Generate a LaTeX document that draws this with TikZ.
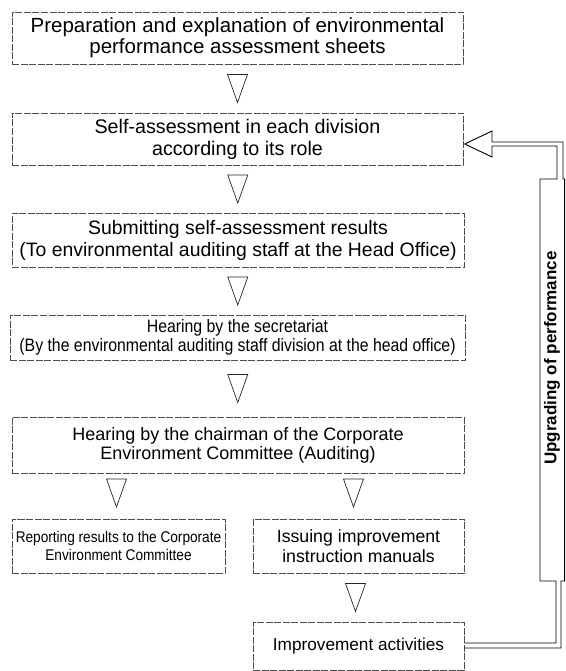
\documentclass[tikz,border=0pt]{standalone}
\usepackage{fontspec}
\setmainfont{Liberation Sans}
\newfontfamily\narrowsans{Liberation Sans}[FakeStretch=0.88]
\usetikzlibrary{calc}

\tikzset{
  box/.style={draw=black!70, line width=0.6pt, dash pattern=on 7pt off 1.5pt,
    rectangle, align=center, inner sep=0pt},
  tri/.style={draw=black!85, line width=0.7pt, line join=miter},
  loopline/.style={draw=black, line width=0.9pt, line join=miter},
  downtri/.pic={\draw[tri] (-10,-14) -- (10,-14) -- (0,14) -- cycle;},
}

\begin{document}
\begin{tikzpicture}[x=1pt,y=-1pt]
\useasboundingbox (0,0) rectangle (565,671);

% main column of steps
\node[box, minimum width=451pt, minimum height=52pt,
      font=\fontsize{20.5}{21}\selectfont] (b1) at (237.5,38)
  {Preparation and explanation of environmental\\performance assessment sheets};
\node[box, minimum width=451pt, minimum height=52pt,
      font=\fontsize{19.7}{22}\selectfont] (b2) at (237.5,139)
  {Self-assessment in each division\\according to its role};
\node[box, minimum width=452pt, minimum height=54pt,
      font=\fontsize{19.4}{22}\selectfont] (b3) at (238,240)
  {Submitting self-assessment results\\(To environmental auditing staff at the Head Office)};
\node[box, minimum width=455pt, minimum height=45pt,
      font=\narrowsans\fontsize{18}{19}\selectfont] (b4) at (237.5,337.5)
  {Hearing by the secretariat\\(By the environmental auditing staff division at the head office)};
\node[box, minimum width=452pt, minimum height=56pt,
      font=\fontsize{18}{19}\selectfont] (b5) at (238,445)
  {Hearing by the chairman of the Corporate\\Environment Committee (Auditing)};

% two branches
\node[box, minimum width=213pt, minimum height=54pt,
      font=\narrowsans\fontsize{15.5}{18}\selectfont] (b6a) at (118.5,546)
  {Reporting results to the Corporate\\Environment Committee};
\node[box, minimum width=211pt, minimum height=54pt,
      font=\fontsize{17.7}{20}\selectfont] (b6b) at (358.5,546)
  {Issuing improvement\\instruction manuals};
\node[box, minimum width=211pt, minimum height=48pt,
      font=\fontsize{17.2}{20}\selectfont] (b7) at (358.5,646)
  {Improvement activities};

% step markers
\pic at ($(b1.south)!0.5!(b2.north)$) {downtri};
\pic at ($(b2.south)!0.5!(b3.north)$) {downtri};
\pic at ($(b3.south)!0.5!(b4.north)$) {downtri};
\pic at ($(b4.south)!0.5!(b5.north)$) {downtri};
\pic at ($(b6a.north)!0.5!(b6a.north|-b5.south)+(-2,-3)$) {downtri};
\pic at ($(b6b.north)!0.5!(b6b.north|-b5.south)+(-5,-3)$) {downtri};
\pic at ($(b6b.south)!0.5!(b7.north)+(-3,0)$) {downtri};

% feedback loop
\coordinate (loopout) at ($(b7.east)+(0,2)$);
\coordinate (loopin)  at ($(b7.east)+(0,-3)$);
\coordinate (tip)     at ($(b2.east)+(1.5,5)$);
\node[rotate=90, font=\bfseries\fontsize{17}{17}\selectfont] (upg) at (552,358)
  {Upgrading of performance};
\draw[loopline] (loopout) -- (561,648) -- (561,581) -- (564.6,581) -- (564.6,179)
  -- (563,179) -- (563,142) -- (492,142) -- (492,131) -- (tip)
  -- (492,157) -- (492,146) -- (557,146) -- (557,179) -- (540,179)
  -- (540,581) -- (556,581) -- (556,643) -- (loopin);
\end{tikzpicture}
\end{document}
